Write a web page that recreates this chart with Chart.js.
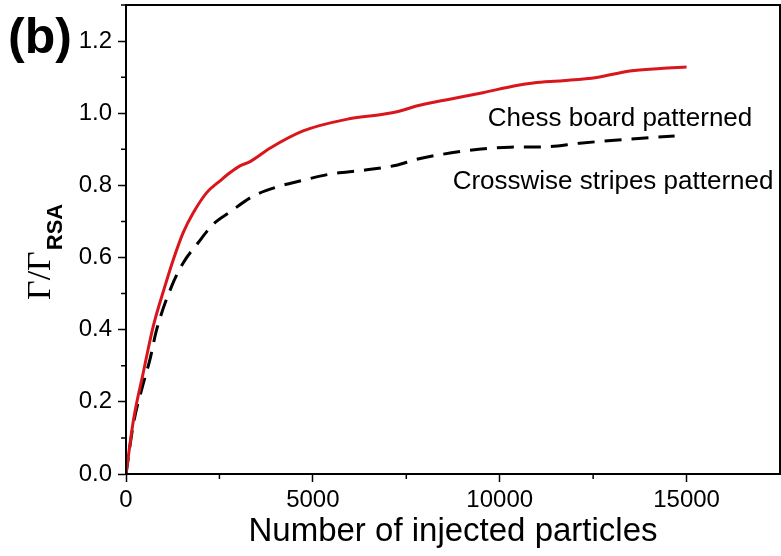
<!DOCTYPE html>
<html>
<head>
<meta charset="utf-8">
<script src="https://cdn.jsdelivr.net/npm/chart.js@4/dist/chart.umd.min.js"></script>
<style>
  html, body { margin: 0; padding: 0; background: #fff; }
  #wrap { width: 781px; height: 556px; }
</style>
</head>
<body>
<div id="wrap"><canvas id="myChart" width="781" height="556"></canvas></div>
<script>
// values
const chessX = [0, 200, 460, 730, 1040, 1265, 1530, 1800, 2160, 2510, 2780, 3050, 3320, 3850, 4740, 5900, 6870, 7330, 7770, 8660, 9550, 10450, 10900, 11680, 12590, 13480, 14300, 15000];
const chessY = [0, 0.15, 0.28, 0.41, 0.52, 0.594, 0.669, 0.724, 0.78, 0.812, 0.835, 0.854, 0.866, 0.903, 0.951, 0.983, 0.997, 1.006, 1.02, 1.039, 1.057, 1.077, 1.084, 1.09, 1.099, 1.117, 1.124, 1.128];

const stripesX = [0, 200, 460, 640, 820, 1220, 1530, 1930, 2330, 2780, 3400, 4120, 4650, 5450, 6350, 7240, 7770, 9110, 10270, 11250, 12140, 13480, 14680];
const stripesY = [0, 0.14, 0.25, 0.317, 0.40, 0.52, 0.585, 0.641, 0.692, 0.726, 0.77, 0.798, 0.812, 0.831, 0.842, 0.856, 0.872, 0.896, 0.906, 0.907, 0.917, 0.928, 0.937];

const xTicks = [0, 5000, 10000, 15000];
const yTicks = [0.0, 0.2, 0.4, 0.6, 0.8, 1.0, 1.2];

const seriesNames = ['Chess board patterned', 'Crosswise stripes patterned'];

function toPoints(xs, ys) {
    return xs.map((x, i) => ({ x: x, y: ys[i] }));
}

// frame box, minor ticks, y title, panel letter and curve labels
const extras = {
    id: 'extras',
    afterDraw(chart) {
        const ctx = chart.ctx;
        const a = chart.chartArea;
        const xs = chart.scales.x;
        const ys = chart.scales.y;
        ctx.save();
        ctx.strokeStyle = '#000';
        ctx.lineWidth = 2;
        ctx.strokeRect(a.left, a.top, a.right - a.left, a.bottom - a.top);

        // minor ticks
        ctx.lineWidth = 1.5;
        ctx.beginPath();
        for (let v = 2500; v < 17500; v += 5000) {
            const px = xs.getPixelForValue(v);
            ctx.moveTo(px, a.bottom);
            ctx.lineTo(px, a.bottom + 5);
        }
        for (let v = 0.1; v < 1.3; v += 0.2) {
            const py = ys.getPixelForValue(v);
            ctx.moveTo(a.left, py);
            ctx.lineTo(a.left - 5, py);
        }
        ctx.stroke();

        // y axis title: Γ/Γ_RSA
        ctx.fillStyle = '#000';
        ctx.translate(50, 300);
        ctx.rotate(-Math.PI / 2);
        ctx.textAlign = 'left';
        ctx.textBaseline = 'alphabetic';
        ctx.font = '34px "Liberation Serif"';
        ctx.fillText('\u0393/\u0393', 0, 0);
        const w = ctx.measureText('\u0393/\u0393').width;
        ctx.font = 'bold 22px "Liberation Sans"';
        ctx.fillText('RSA', w + 1, 12);
        ctx.restore();

        ctx.save();
        ctx.fillStyle = '#000';
        ctx.font = 'bold 50px "Liberation Sans"';
        ctx.textBaseline = 'alphabetic';
        ctx.fillText('(b)', 8, 53);

        ctx.font = '26px "Liberation Sans"';
        ctx.fillText(seriesNames[0], xs.getPixelForValue(9680), ys.getPixelForValue(0.964));
        ctx.fillText(seriesNames[1], xs.getPixelForValue(8740), ys.getPixelForValue(0.789));
        ctx.restore();
    }
};

const ctx = document.getElementById('myChart').getContext('2d');
new Chart(ctx, {
    type: 'line',
    data: {
        datasets: [
            {
                label: seriesNames[0],
                data: toPoints(chessX, chessY),
                borderColor: '#d9161c',
                borderWidth: 3,
                pointRadius: 0,
                cubicInterpolationMode: 'monotone',
                order: 0
            },
            {
                label: seriesNames[1],
                data: toPoints(stripesX, stripesY),
                borderColor: '#000',
                borderWidth: 3,
                borderDash: [17, 10],
                pointRadius: 0,
                cubicInterpolationMode: 'monotone',
                order: 1
            }
        ]
    },
    options: {
        responsive: false,
        animation: false,
        layout: { padding: { top: 5, right: 1, left: 0, bottom: 0 } },
        plugins: {
            legend: { display: false },
            tooltip: { enabled: false }
        },
        scales: {
            x: {
                type: 'linear',
                min: 0,
                max: 17500,
                afterFit: s => { s.height = 82; s.paddingLeft = 0; s.paddingRight = 0; },
                afterBuildTicks: s => { s.ticks = xTicks.map(v => ({ value: v })); },
                ticks: {
                    color: '#000',
                    font: { family: 'Liberation Sans', size: 24 },
                    padding: 4,
                    maxRotation: 0,
                    callback: v => String(v)
                },
                grid: { drawOnChartArea: false, tickLength: 8, tickWidth: 1.5, tickColor: '#000' },
                border: { color: '#000', width: 2 },
                title: {
                    display: true,
                    text: 'Number of injected particles',
                    color: '#000',
                    font: { family: 'Liberation Sans', size: 33, lineHeight: 1 },
                    padding: { top: 0, bottom: 8 }
                }
            },
            y: {
                min: 0,
                max: 1.3,
                afterFit: s => { s.width = 126; s.paddingTop = 0; s.paddingBottom = 0; },
                afterBuildTicks: s => { s.ticks = yTicks.map(v => ({ value: v })); },
                ticks: {
                    color: '#000',
                    font: { family: 'Liberation Sans', size: 24 },
                    padding: 6,
                    callback: v => v.toFixed(1)
                },
                grid: { drawOnChartArea: false, tickLength: 8, tickWidth: 1.5, tickColor: '#000' },
                border: { color: '#000', width: 2 }
            }
        }
    },
    plugins: [extras]
});
</script>
</body>
</html>
